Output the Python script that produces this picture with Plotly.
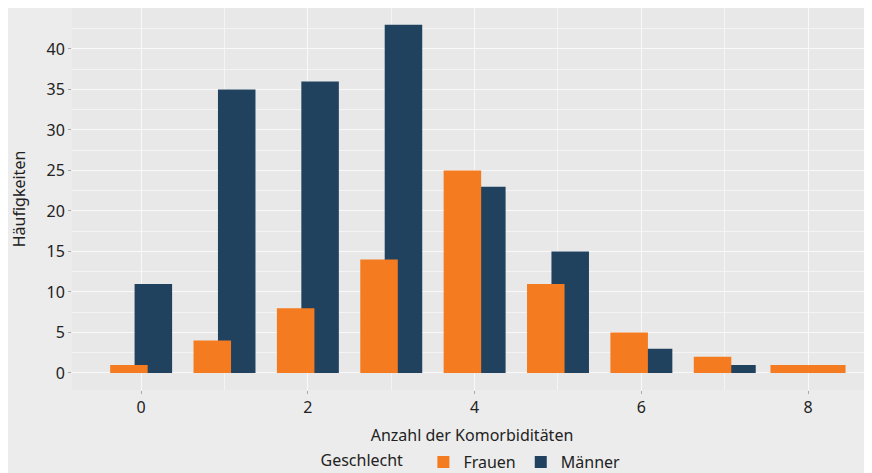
import plotly.graph_objects as go

# Data
anzahl_frauen = [0, 1, 2, 3, 4, 5, 6, 7, 8]
frauen = [1, 4, 8, 14, 25, 11, 5, 2, 1]
anzahl_maenner = [0, 1, 2, 3, 4, 5, 6, 7]
maenner = [11, 35, 36, 43, 23, 15, 3, 1]
x_ticks = [0, 2, 4, 6, 8]
y_ticks = [0, 5, 10, 15, 20, 25, 30, 35, 40]

ORANGE = "#f47b20"
NAVY = "#21425f"
FONT = "Noto Sans"
FS = 16

# bar geometry (dodge with overlap, as in the reference)
w_f = [0.9 if x not in anzahl_maenner else 0.45 for x in anzahl_frauen]
o_f = [-0.45 if x not in anzahl_maenner else -0.37 for x in anzahl_frauen]
w_m = [0.45 for _ in anzahl_maenner]
o_m = [-0.077 for _ in anzahl_maenner]

fig = go.Figure()
fig.add_trace(go.Bar(
    x=anzahl_maenner, y=maenner, name="Männer", width=w_m, offset=o_m,
    marker=dict(color=NAVY, line=dict(width=0)), legendrank=2,
))
fig.add_trace(go.Bar(
    x=anzahl_frauen, y=frauen, name="Frauen", width=w_f, offset=o_f,
    marker=dict(color=ORANGE, line=dict(width=0)), legendrank=1,
))

# page has an 8px body margin: figure is 864x465 placed at (8, 8)
fig.update_layout(
    width=864, height=465,
    barmode="overlay",
    paper_bgcolor="#ececec",
    plot_bgcolor="#e8e8e8",
    margin=dict(l=64, r=0, t=0, b=83, autoexpand=False),
    font=dict(family=FONT, size=FS, color="#222"),
    showlegend=True,
    legend=dict(
        orientation="h", x=0.5, xanchor="center", y=-0.1885, yanchor="middle",
        title=dict(text="Geschlecht   ", font=dict(size=FS)),
        font=dict(size=FS), bgcolor="rgba(0,0,0,0)", itemwidth=30,
    ),
    xaxis=dict(
        range=[-0.8276, 8.7676], tickvals=x_ticks, ticktext=[str(v) for v in x_ticks],
        showgrid=True, gridcolor="#f9f9f9", gridwidth=1.3,
        minor=dict(dtick=1, tick0=0, showgrid=True, gridcolor="#f4f4f4", gridwidth=1),
        ticks="outside", ticklen=3, tickcolor="#aaa", zeroline=False,
        automargin=False,
        title=dict(text="Anzahl der Komorbiditäten", standoff=12, font=dict(size=FS)),
        tickfont=dict(size=FS),
    ),
    yaxis=dict(
        range=[-2.1, 45.06], tickvals=y_ticks, ticktext=[str(v) for v in y_ticks],
        showgrid=True, gridcolor="#f9f9f9", gridwidth=1.3,
        minor=dict(dtick=2.5, tick0=0, showgrid=True, gridcolor="#f4f4f4", gridwidth=1),
        ticks="outside", ticklen=3, tickcolor="#aaa", zeroline=False,
        automargin=False,
        title=dict(text="Häufigkeiten", standoff=19, font=dict(size=FS)),
        tickfont=dict(size=FS),
    ),
)

fig.write_html("out.html")
